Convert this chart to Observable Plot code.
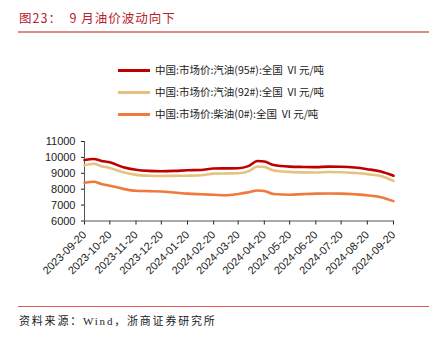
<!DOCTYPE html>
<html><head><meta charset="utf-8">
<script src="https://cdn.jsdelivr.net/npm/d3@7"></script>
<script src="https://cdn.jsdelivr.net/npm/@observablehq/plot@0.6"></script>
<style>
body{margin:0;width:439px;height:339px;background:#fff;position:relative;overflow:hidden;font-family:"Noto Sans CJK SC",sans-serif;}
#title{position:absolute;left:19px;top:8px;font-size:12.5px;color:#b8202a;letter-spacing:1px;white-space:pre;}
#tline{position:absolute;left:18px;top:31px;width:411px;height:1.5px;background:#e08a8a;}
#legend{position:absolute;left:118px;top:62px;}
.li{position:absolute;left:0;height:16px;white-space:pre;font-size:10.5px;color:#222;}
.li span.sw{position:absolute;left:0;top:7px;width:32px;height:3px;}
.li span.tx{position:absolute;left:37px;top:0;line-height:16px;white-space:pre;}
#chart{position:absolute;left:0;top:130px;}
#bline{position:absolute;left:18px;top:305.5px;width:411px;height:1px;background:#e05a5a;}
#source{position:absolute;left:19px;top:312px;font-size:11px;color:#222;letter-spacing:1.8px;font-family:"Liberation Serif","Noto Sans CJK SC",serif;}
</style></head>
<body>
<div id="title">图23：  9 月油价波动向下</div>
<div id="tline"></div>
<div id="legend"></div>
<div id="chart"></div>
<div id="bline"></div>
<div id="source">资料来源：Wind，浙商证券研究所</div>
<script>
const dates = ["2023-09-20","2023-10-01","2023-10-10","2023-10-20","2023-11-05","2023-11-20","2023-12-05","2023-12-20","2024-01-05","2024-01-20","2024-02-05","2024-02-20","2024-03-05","2024-03-20","2024-04-01","2024-04-12","2024-04-20","2024-05-01","2024-05-20","2024-06-05","2024-06-20","2024-07-05","2024-07-20","2024-08-05","2024-08-20","2024-09-05","2024-09-20"];
const gas95 = [9840,9900,9780,9690,9380,9220,9150,9130,9150,9190,9210,9300,9310,9320,9450,9770,9740,9520,9420,9400,9390,9420,9410,9360,9260,9120,8850];
const gas92 = [9500,9600,9450,9340,9060,8900,8850,8830,8840,8850,8880,8980,8990,9000,9120,9430,9400,9180,9090,9060,9050,9080,9070,9020,8950,8830,8520];
const diesel = [8400,8470,8330,8220,8020,7900,7880,7860,7790,7720,7680,7650,7620,7700,7800,7920,7890,7700,7650,7690,7720,7730,7720,7680,7620,7500,7250];
const seriesNames = ["中国:市场价:汽油(95#):全国  VI 元/吨","中国:市场价:汽油(92#):全国  VI 元/吨","中国:市场价:柴油(0#):全国  VI 元/吨"];
const seriesColors = ["#c00000","#e5c27e","#f07a3c"];
const xTicks = ["2023-09-20","2023-10-20","2023-11-20","2023-12-20","2024-01-20","2024-02-20","2024-03-20","2024-04-20","2024-05-20","2024-06-20","2024-07-20","2024-08-20","2024-09-20"];
const yTicks = [6000,7000,8000,9000,10000,11000];

const parse = d3.utcParse("%Y-%m-%d");
const all = [gas95, gas92, diesel];
const data = [];
all.forEach((vals, k) => vals.forEach((v, i) => data.push({date: parse(dates[i]), value: v, s: seriesNames[k]})));

// legend
const leg = document.getElementById("legend");
seriesNames.forEach((n, k) => {
  const d = document.createElement("div");
  d.className = "li";
  d.style.top = (k * 22.2) + "px";
  const sw = document.createElement("span"); sw.className = "sw"; sw.style.background = seriesColors[k];
  const tx = document.createElement("span"); tx.className = "tx"; tx.textContent = n;
  d.appendChild(sw); d.appendChild(tx);
  leg.appendChild(d);
});

const x0 = parse(xTicks[0]), x1 = parse(xTicks[xTicks.length - 1]);
const chart = Plot.plot({
  width: 439, height: 150,
  marginLeft: 84, marginRight: 46, marginTop: 11, marginBottom: 59.5,
  style: {fontFamily: "Liberation Sans, Arial, sans-serif", fontSize: "11px", color: "#222", background: "transparent"},
  x: {type: "utc", domain: [x0, x1], ticks: xTicks.map(parse), tickFormat: d3.utcFormat("%Y-%m-%d"), tickRotate: -45, tickSize: 4, label: null},
  y: {domain: [6000, 11000], ticks: yTicks, tickFormat: d => String(d), tickSize: 3, label: null},
  color: {domain: seriesNames, range: seriesColors},
  marks: [
    Plot.ruleX([x0], {stroke: "#555", strokeWidth: 1}),
    Plot.ruleY([6000], {stroke: "#555", strokeWidth: 1}),
    Plot.lineY(data, {x: "date", y: "value", z: "s", stroke: "s", strokeWidth: 2.6, curve: "monotone-x"})
  ]
});
document.getElementById("chart").appendChild(chart);
</script>
</body></html>
